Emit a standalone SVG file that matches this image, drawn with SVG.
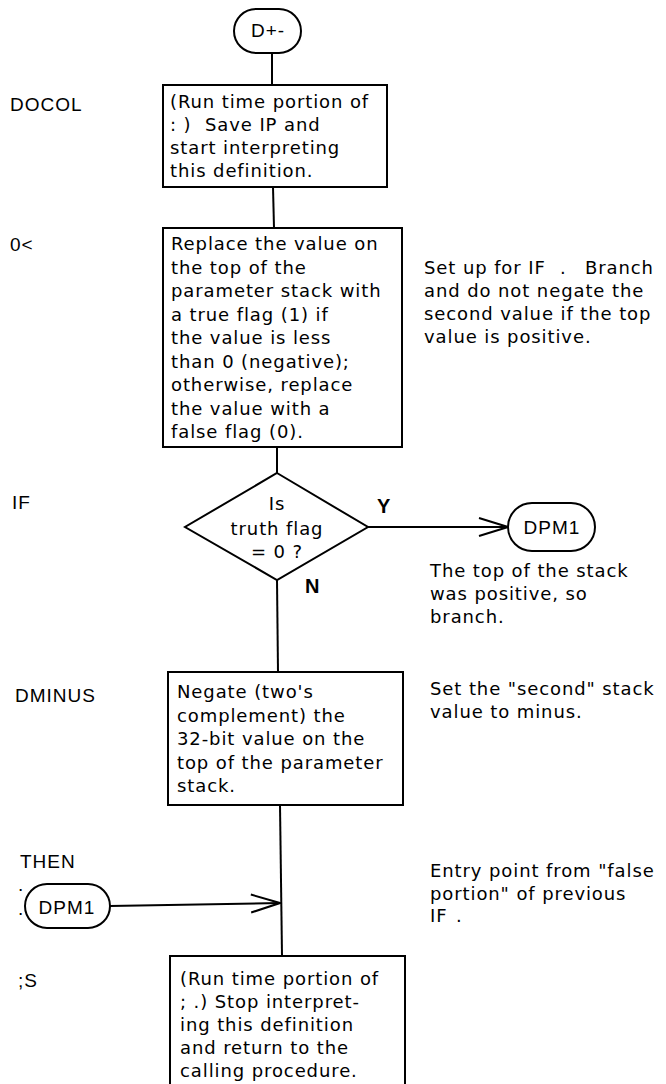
<svg xmlns="http://www.w3.org/2000/svg" width="666" height="1084" viewBox="0 0 666 1084">
<style>
.box{fill:#fff;stroke:#000;stroke-width:2}
.conn{stroke:#000;stroke-width:2;fill:none}
.t{font-family:"DejaVu Sans","Liberation Sans",sans-serif;font-size:18px;letter-spacing:0.9px;fill:#000}
.c{text-anchor:middle}
.lbl{font-family:"Liberation Sans",Arial,sans-serif;font-size:19px;letter-spacing:1px;fill:#000}
.yn{font-family:"Liberation Sans",Arial,sans-serif;font-size:20px;font-weight:bold;fill:#000}
</style>
<defs>
<marker id="arr" markerUnits="userSpaceOnUse" markerWidth="32" markerHeight="22" refX="30" refY="10" orient="auto">
<path d="M1,1 L30,10 L1,19" fill="none" stroke="#000" stroke-width="2"/>
</marker>
</defs>
<rect width="666" height="1084" fill="#fff"/>

<g id="labels">
<text class="lbl" x="10" y="111">DOCOL</text>
<text class="lbl" x="10" y="251">0&lt;</text>
<text class="lbl" x="12" y="509">IF</text>
<text class="lbl" x="15" y="702">DMINUS</text>
<text class="lbl" x="20" y="868">THEN</text>
<text class="lbl" x="18" y="891">.</text>
<text class="lbl" x="18" y="915">.</text>
<text class="lbl" x="18" y="987">;S</text>
</g>

<g id="connectors">
<line class="conn" x1="272" y1="53" x2="272" y2="85"/>
<line class="conn" x1="273" y1="187" x2="274" y2="228"/>
<line class="conn" x1="277" y1="447" x2="277" y2="473"/>
<line class="conn" x1="277" y1="580" x2="278" y2="672"/>
<line class="conn" x1="368" y1="527" x2="508" y2="527" marker-end="url(#arr)"/>
<line class="conn" x1="280" y1="805" x2="282" y2="956"/>
<line class="conn" x1="110" y1="906" x2="280" y2="903" marker-end="url(#arr)"/>
</g>

<g id="start">
<rect class="box" x="234" y="9" width="67" height="44" rx="22"/>
<text class="lbl c" x="268" y="37">D+-</text>
</g>

<g id="docol">
<rect class="box" x="163" y="85" width="224" height="102"/>
<text class="t" x="170" y="108">(Run time portion of</text>
<text class="t" x="170" y="131">: )<tspan x="205">Save IP and</tspan></text>
<text class="t" x="170" y="154">start interpreting</text>
<text class="t" x="170" y="177">this definition.</text>
</g>

<g id="zless">
<rect class="box" x="163" y="228" width="239" height="219"/>
<text class="t" x="171" y="250">Replace the value on</text>
<text class="t" x="171" y="273.5">the top of the</text>
<text class="t" x="171" y="297">parameter stack with</text>
<text class="t" x="171" y="320.5">a true flag (1) if</text>
<text class="t" x="171" y="344">the value is less</text>
<text class="t" x="171" y="367.5">than 0 (negative);</text>
<text class="t" x="171" y="391">otherwise, replace</text>
<text class="t" x="171" y="414.5">the value with a</text>
<text class="t" x="171" y="438">false flag (0).</text>
</g>

<g id="if">
<polygon class="box" points="277,473 368,527 277,580 185,527"/>
<text class="t c" x="277" y="510">Is</text>
<text class="t c" x="277" y="535">truth flag</text>
<text class="t c" x="277" y="558">= 0 ?</text>
<text class="yn" x="377" y="513">Y</text>
<text class="yn" x="305" y="593">N</text>
</g>

<g id="dpm1-out">
<rect class="box" x="508" y="503" width="87" height="48" rx="24"/>
<text class="lbl c" x="552" y="534">DPM1</text>
</g>

<g id="dminus">
<rect class="box" x="168" y="672" width="235" height="133"/>
<text class="t" x="177" y="698">Negate (two's</text>
<text class="t" x="177" y="721.5">complement) the</text>
<text class="t" x="177" y="745">32-bit value on the</text>
<text class="t" x="177" y="768.5">top of the parameter</text>
<text class="t" x="177" y="792">stack.</text>
</g>

<g id="dpm1-in">
<rect class="box" x="25" y="884" width="85" height="44" rx="22"/>
<text class="lbl c" x="67" y="914">DPM1</text>
</g>

<g id="semis">
<rect class="box" x="170" y="956" width="235" height="140"/>
<text class="t" x="180" y="985">(Run time portion of</text>
<text class="t" x="180" y="1008">; .) Stop interpret-</text>
<text class="t" x="180" y="1031">ing this definition</text>
<text class="t" x="180" y="1054">and return to the</text>
<text class="t" x="180" y="1077">calling procedure.</text>
</g>

<g id="notes">
<text class="t" x="424" y="274">Set up for IF<tspan x="560">.</tspan><tspan x="585">Branch</tspan></text>
<text class="t" x="424" y="297">and do not negate the</text>
<text class="t" x="424" y="320">second value if the top</text>
<text class="t" x="424" y="343">value is positive.</text>
<text class="t" x="430" y="577">The top of the stack</text>
<text class="t" x="430" y="600">was positive, so</text>
<text class="t" x="430" y="623">branch.</text>
<text class="t" x="430" y="695">Set the "second" stack</text>
<text class="t" x="430" y="718">value to minus.</text>
<text class="t" x="430" y="877">Entry point from "false</text>
<text class="t" x="430" y="900">portion" of previous</text>
<text class="t" x="430" y="922">IF<tspan x="456">.</tspan></text>
</g>
</svg>
